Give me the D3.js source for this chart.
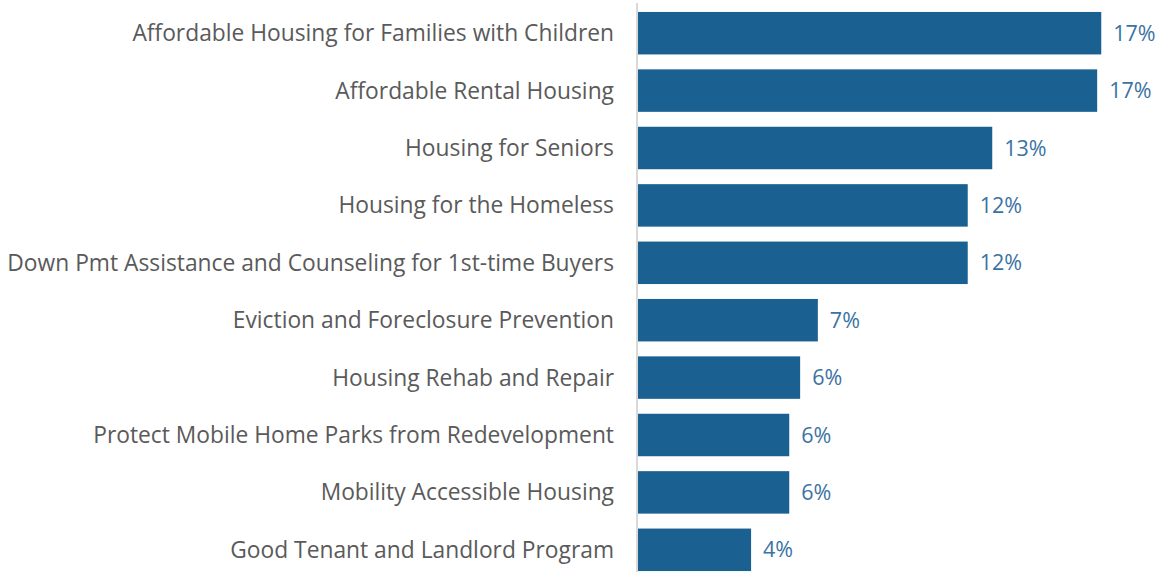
<!DOCTYPE html>
<html>
<head>
<meta charset="utf-8">
<script src="https://cdn.jsdelivr.net/npm/d3@7"></script>
<style>
  html, body { margin: 0; padding: 0; background: #fff; }
  svg { display: block; }
  text { font-family: "Open Sans", sans-serif; }
</style>
</head>
<body>
<svg id="chart" width="1161" height="572"></svg>
<script>
const categories = [
  "Affordable Housing for Families with Children",
  "Affordable Rental Housing",
  "Housing for Seniors",
  "Housing for the Homeless",
  "Down Pmt Assistance and Counseling for 1st-time Buyers",
  "Eviction and Foreclosure Prevention",
  "Housing Rehab and Repair",
  "Protect Mobile Home Parks from Redevelopment",
  "Mobility Accessible Housing",
  "Good Tenant and Landlord Program"
];
const values = [17.0, 16.85, 13.0, 12.1, 12.1, 6.6, 5.95, 5.55, 5.55, 4.15];
const valueLabels = ["17%", "17%", "13%", "12%", "12%", "7%", "6%", "6%", "6%", "4%"];

const data = categories.map((c, i) => ({ cat: c, val: values[i], lab: valueLabels[i] }));

const svg = d3.select("#chart");
const x0 = 638;
const x = d3.scaleLinear().domain([0, 20]).range([x0, 1183]);
const y = d3.scaleBand().domain(categories).range([4.5, 578.5]).paddingInner(0.26).paddingOuter(0.13);

svg.selectAll("rect.bar").data(data).join("rect")
  .attr("class", "bar")
  .attr("x", x(0))
  .attr("y", d => y(d.cat))
  .attr("width", d => x(d.val) - x(0))
  .attr("height", y.bandwidth())
  .attr("fill", "#1a6192");

svg.append("line")
  .attr("x1", x0 - 1).attr("x2", x0 - 1)
  .attr("y1", 3).attr("y2", 572)
  .attr("stroke", "#d9d9d9").attr("stroke-width", 2);

svg.selectAll("text.cat").data(data).join("text")
  .attr("class", "cat")
  .attr("x", x0 - 24)
  .attr("y", d => y(d.cat) + y.bandwidth() / 2)
  .attr("dy", "0.35em")
  .attr("text-anchor", "end")
  .attr("font-size", 22.8)
  .attr("fill", "#5a5a5a")
  .text(d => d.cat);

svg.selectAll("text.val").data(data).join("text")
  .attr("class", "val")
  .attr("x", d => x(d.val) + 12)
  .attr("y", d => y(d.cat) + y.bandwidth() / 2)
  .attr("dy", "0.35em")
  .attr("font-size", 21.5)
  .attr("fill", "#3b72a3")
  .text(d => d.lab);
</script>
</body>
</html>
